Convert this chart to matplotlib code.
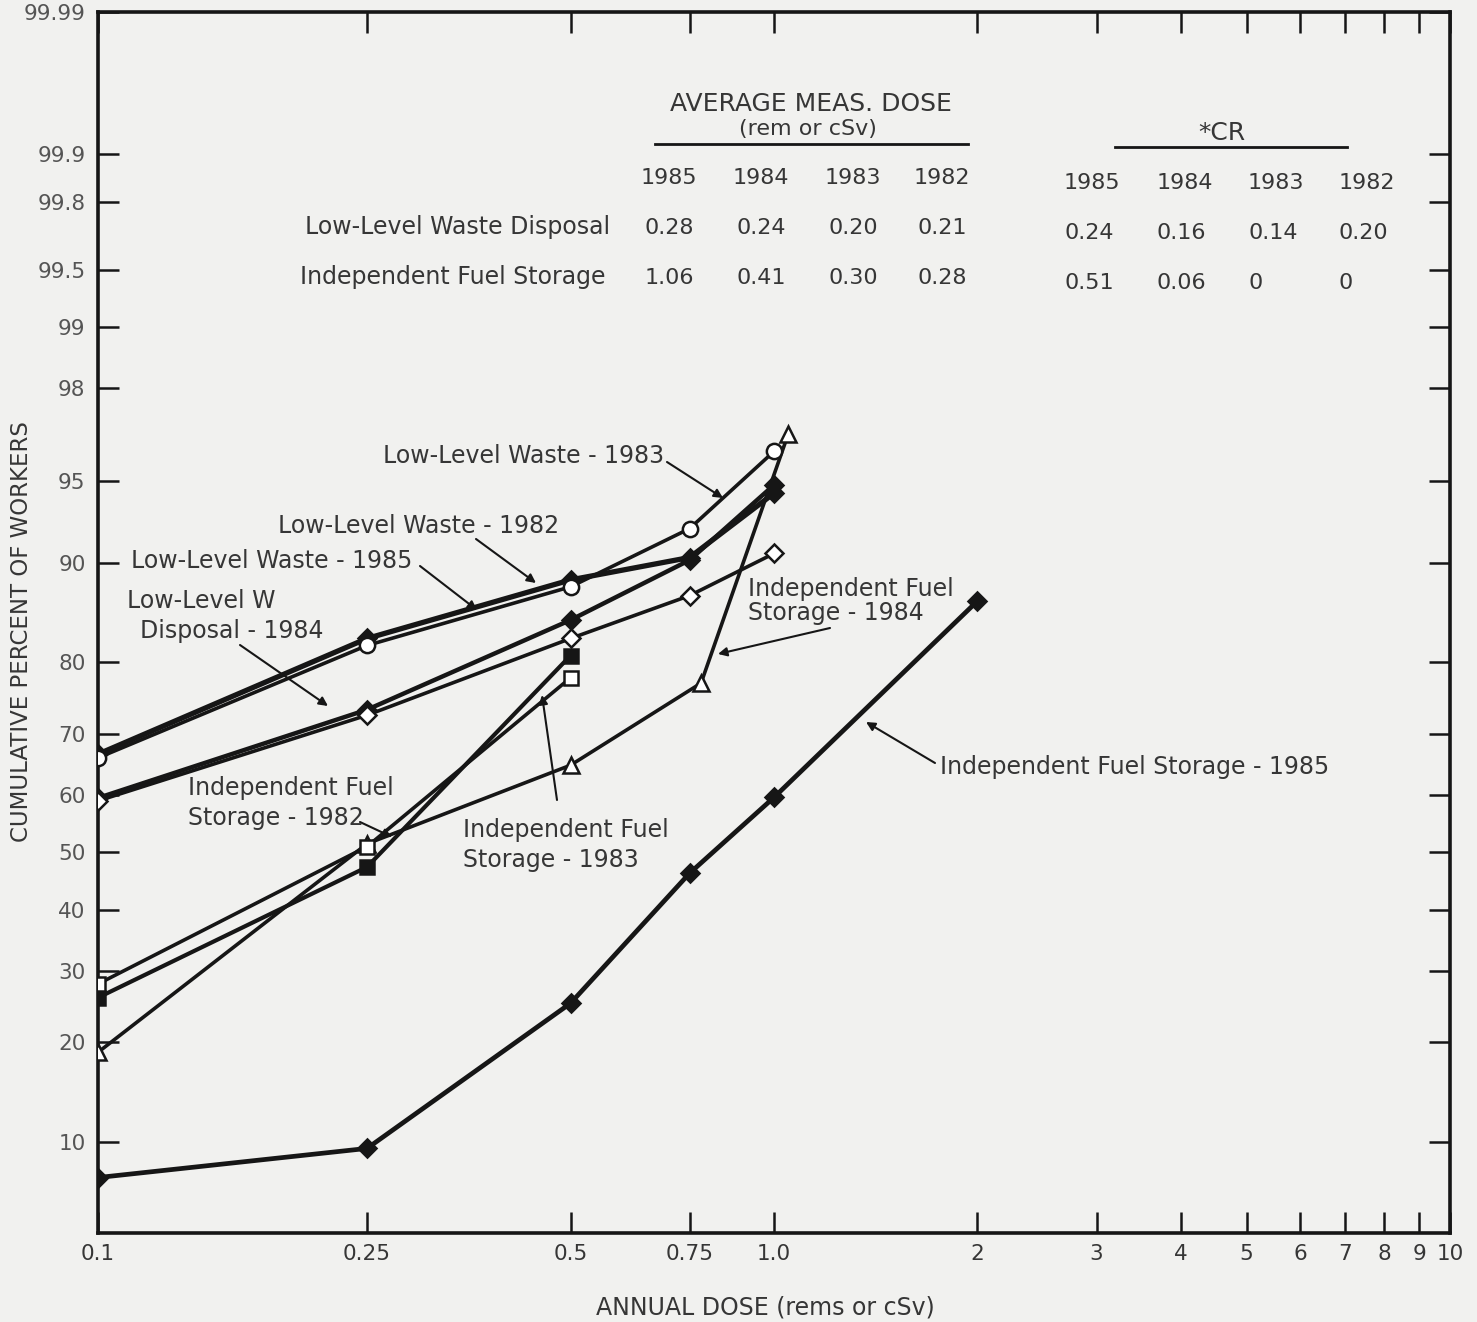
"""
Cumulative dose distribution on a probability scale (LLW disposal / independent fuel storage)
"""

import math
import numpy as np
import matplotlib
matplotlib.use("Agg")
import matplotlib.pyplot as plt
from matplotlib.lines import Line2D
from matplotlib.ticker import FixedLocator, NullLocator

W, H = 1477, 1322
INK = "#161616"
TXT = "#363636"
BG = "#f1f1ef"

# ---- data --------------------------------------------------------------
dose_llw = [0.1, 0.25, 0.5, 0.75, 1.0]
llw_1983 = [66.2, 82.0, 88.0, 92.4, 96.2]      # open circles
llw_1982 = [66.8, 82.8, 88.6, 90.4, 94.4]      # filled, upper band
llw_1985 = [59.5, 73.6, 84.8, 90.2, 94.8]      # filled, lower band
llw_1984 = [59.0, 72.8, 82.8, 87.2, 90.7]      # open diamonds

dose_ifs_short = [0.1, 0.25, 0.5]
ifs_1982 = [26.0, 47.4, 80.8]                  # filled squares
ifs_1983 = [28.0, 51.0, 78.0]                  # open squares
dose_ifs_1984 = [0.1, 0.25, 0.5, 0.78, 1.05]
ifs_1984 = [18.8, 51.5, 65.0, 77.3, 96.8]      # open triangles
dose_ifs_1985 = [0.1, 0.25, 0.5, 0.75, 1.0, 2.0]
ifs_1985 = [7.5, 9.5, 25.2, 46.3, 59.6, 86.7]  # filled diamonds

y_ticks = [10, 20, 30, 40, 50, 60, 70, 80, 90, 95, 98, 99, 99.5, 99.8, 99.9, 99.99]
y_labels = ["10", "20", "30", "40", "50", "60", "70", "80", "90", "95", "98",
            "99", "99.5", "99.8", "99.9", "99.99"]
x_ticks = [0.1, 0.25, 0.5, 0.75, 1.0, 2, 3, 4, 5, 6, 7, 8, 9, 10]
x_labels = ["0.1", "0.25", "0.5", "0.75", "1.0", "2", "3", "4", "5", "6", "7", "8", "9", "10"]

years = ["1985", "1984", "1983", "1982"]
avg_dose_llw = ["0.28", "0.24", "0.20", "0.21"]
avg_dose_ifs = ["1.06", "0.41", "0.30", "0.28"]
cr_llw = ["0.24", "0.16", "0.14", "0.20"]
cr_ifs = ["0.51", "0.06", "0", "0"]


# ---- normal probability scale ------------------------------------------
_a = [-3.969683028665376e+01, 2.209460984245205e+02, -2.759285104469687e+02,
      1.383577518672690e+02, -3.066479806614716e+01, 2.506628277459239e+00]
_b = [-5.447609879822406e+01, 1.615858368580409e+02, -1.556989798598866e+02,
      6.680131188771972e+01, -1.328068155288572e+01]
_c = [-7.784894002430293e-03, -3.223964580411365e-01, -2.400758277161838e+00,
      -2.549732539343734e+00, 4.374664141464968e+00, 2.938163982698783e+00]
_d = [7.784695709041462e-03, 3.224671290700398e-01, 2.445134137142996e+00,
      3.754408661907416e+00]
_erf = np.vectorize(math.erf, otypes=[float])


def pct_to_z(pct):
    p = np.clip(np.asarray(pct, dtype=float) / 100.0, 1e-12, 1 - 1e-12)
    q = p - 0.5
    r = q * q
    zc = ((((((_a[0] * r + _a[1]) * r + _a[2]) * r + _a[3]) * r + _a[4]) * r + _a[5]) * q /
          (((((_b[0] * r + _b[1]) * r + _b[2]) * r + _b[3]) * r + _b[4]) * r + 1))
    pt = np.where(q < 0, p, 1 - p)
    s = np.sqrt(-2 * np.log(pt))
    zt = ((((((_c[0] * s + _c[1]) * s + _c[2]) * s + _c[3]) * s + _c[4]) * s + _c[5]) /
          ((((_d[0] * s + _d[1]) * s + _d[2]) * s + _d[3]) * s + 1))
    zt = np.where(q < 0, zt, -zt)
    return np.where(np.abs(q) <= 0.5 - 0.02425, zc, zt)


def z_to_pct(z):
    return 50.0 * (1.0 + _erf(np.asarray(z, dtype=float) / math.sqrt(2)))


def fx(px):
    return px / W


def fy(py):
    return 1 - py / H


fig = plt.figure(figsize=(W / 100, H / 100), dpi=100, facecolor=BG)
ax = fig.add_axes([fx(98), fy(1233), fx(1450) - fx(98), fy(12) - fy(1233)])
ax.set_facecolor(BG)

ax.set_xscale("log")
ax.set_yscale("function", functions=(pct_to_z, z_to_pct))
ax.set_xlim(0.1, 10)
ax.set_ylim(4.6, 99.99)


def series(x, y, marker, filled, lw=3.0, ms=10, z=3):
    face = INK if filled else "white"
    ax.plot(x, y, color=INK, lw=lw, marker=marker, ms=ms, mfc=face,
            mec=INK, mew=1.8, zorder=z, solid_joinstyle="round")


series(dose_ifs_1985, ifs_1985, "D", True, lw=3.4, ms=9)
series(dose_ifs_1984, ifs_1984, "^", False, lw=2.6, ms=11, z=4)
series(dose_ifs_short, ifs_1982, "s", True, lw=3.0, ms=10)
series(dose_ifs_short, ifs_1983, "s", False, lw=2.6, ms=10, z=4)
series(dose_llw, llw_1985, "D", True, lw=3.2, ms=9)
series(dose_llw, llw_1984, "D", False, lw=2.6, ms=9, z=4)
series(dose_llw, llw_1982, "D", True, lw=3.8, ms=9)
series(dose_llw, llw_1983, "o", False, lw=2.6, ms=11, z=4)

# axes, ticks
ax.xaxis.set_major_locator(FixedLocator(x_ticks))
ax.xaxis.set_minor_locator(NullLocator())
ax.set_xticklabels(x_labels)
ax.yaxis.set_major_locator(FixedLocator(y_ticks))
ax.yaxis.set_minor_locator(NullLocator())
ax.set_yticklabels(y_labels)
ax.tick_params(axis="both", which="major", direction="in", length=15, width=1.8,
               top=True, right=True, colors=INK)
ax.tick_params(axis="y", labelsize=15.5, labelcolor="#555555", pad=9)
ax.tick_params(axis="x", labelsize=15.5, labelcolor=TXT, pad=8)
for sp in ax.spines.values():
    sp.set_linewidth(2.6)
    sp.set_color(INK)

fig.text(fx(22), fy(632), "CUMULATIVE PERCENT OF WORKERS", rotation=90,
         ha="center", va="center", fontsize=16.5, color=TXT)
fig.text(fx(765), fy(1307), "ANNUAL DOSE (rems or cSv)", ha="center", va="center",
         fontsize=17, color=TXT)

# ---- table at the top -------------------------------------------------
tfs = 16
fig.text(fx(811), fy(104), "AVERAGE MEAS. DOSE", ha="center", va="center", fontsize=18, color=TXT)
fig.text(fx(808), fy(129), "(rem or cSv)", ha="center", va="center", fontsize=16, color=TXT)
fig.add_artist(Line2D([fx(655), fx(968)], [fy(144), fy(144)], lw=2, color=INK))
fig.text(fx(1222), fy(133), "*CR", ha="center", va="center", fontsize=18, color=TXT)
fig.add_artist(Line2D([fx(1115), fx(1347)], [fy(147), fy(147)], lw=2, color=INK))

avg_cols = [669, 761, 853, 942]
cr_cols = [1064, 1157, 1248, 1339]
for i, yr in enumerate(years):
    fig.text(fx(avg_cols[i]), fy(178), yr, ha="center", va="center", fontsize=tfs, color=TXT)
    fig.text(fx(avg_cols[i]), fy(228), avg_dose_llw[i], ha="center", va="center", fontsize=tfs, color=TXT)
    fig.text(fx(avg_cols[i]), fy(278), avg_dose_ifs[i], ha="center", va="center", fontsize=tfs, color=TXT)
    fig.text(fx(cr_cols[i]), fy(183), yr, ha="left", va="center", fontsize=tfs, color=TXT)
    fig.text(fx(cr_cols[i]), fy(233), cr_llw[i], ha="left", va="center", fontsize=tfs, color=TXT)
    fig.text(fx(cr_cols[i]), fy(283), cr_ifs[i], ha="left", va="center", fontsize=tfs, color=TXT)
fig.text(fx(610), fy(227), "Low-Level Waste Disposal", ha="right", va="center", fontsize=17, color=TXT)
fig.text(fx(606), fy(277), "Independent Fuel Storage", ha="right", va="center", fontsize=17, color=TXT)

# ---- curve labels with arrows --------------------------------------------
lfs = 17
labels = [
    ("Low-Level Waste - 1983", 383, 456),
    ("Low-Level Waste - 1982", 278, 526),
    ("Low-Level Waste - 1985", 131, 561),
    ("Low-Level W", 127, 601),
    ("Disposal - 1984", 140, 631),
    ("Independent Fuel", 748, 589),
    ("Storage - 1984", 748, 613),
    ("Independent Fuel Storage - 1985", 940, 767),
    ("Independent Fuel", 188, 788),
    ("Storage - 1982", 188, 818),
    ("Independent Fuel", 463, 830),
    ("Storage - 1983", 463, 860),
]
for txt, px, py in labels:
    fig.text(fx(px), fy(py), txt, ha="left", va="center", fontsize=lfs, color=TXT, zorder=6)

arrows = [
    ((667, 462), (723, 498)),
    ((476, 539), (536, 583)),
    ((420, 566), (477, 610)),
    ((240, 645), (328, 706)),
    ((830, 628), (718, 654)),
    ((935, 763), (866, 722)),
    ((360, 822), (392, 837)),
    ((557, 800), (542, 695)),
]
for (x0, y0), (x1, y1) in arrows:
    ax.annotate("", xy=(fx(x1), fy(y1)), xytext=(fx(x0), fy(y0)),
                xycoords="figure fraction", textcoords="figure fraction",
                arrowprops=dict(arrowstyle="-|>", lw=1.5, color=INK,
                                mutation_scale=13, shrinkA=0, shrinkB=0))

fig.savefig("out.png", dpi=100, facecolor=BG)
